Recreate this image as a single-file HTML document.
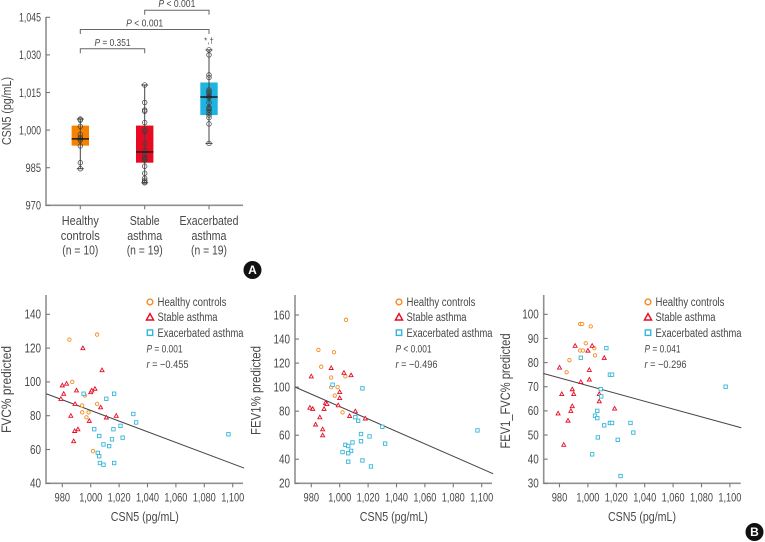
<!DOCTYPE html>
<html lang="en">
<head>
<meta charset="utf-8">
<title>CSN5 chart</title>
<style>
html,body{margin:0;padding:0;background:#fff;}
svg{display:block;font-family:"Liberation Sans",sans-serif;}
text{fill:#484848;}
</style>
</head>
<body>
<svg id="fig" width="765" height="542" viewBox="0 0 765 542" xmlns="http://www.w3.org/2000/svg"></svg>
<script>
// Panel A data
const boxCategories = [["Healthy","controls","(n = 10)"],["Stable","asthma","(n = 19)"],["Exacerbated","asthma","(n = 19)"]];
const boxColors = ["#f58300","#e60b23","#1fb4e0"];
const boxTicks = [970,985,1000,1015,1030,1045];
const boxQ1 = [993.8,987,1006];
const boxMedian = [996.5,991.3,1013.2];
const boxQ3 = [1001.8,1001.8,1019];
const boxMin = [984.6,979,994.7];
const boxMax = [1004.4,1018,1032];
const boxHealthy = [1004.4,1004,1001.5,998.2,997,996.5,996,993.7,987,984.6];
const boxStable = [1018,1011,1008,1007.5,1003,1000,999.3,994.6,991.8,990.5,989,988.5,988,985.6,982.8,980.8,980,979.4,979];
const boxExac = [1032,1030,1022,1021,1016,1015.5,1015,1014.5,1013,1011,1009,1008.6,1008,1007,1006,1005,1002.5,994.7,1013.5];

// Panel B data
const xTicks = [980,1000,1020,1040,1060,1080,1100];
const fvcTicks = [40,60,80,100,120,140];
const fev1Ticks = [20,40,60,80,100,120,140,160];
const ratioTicks = [30,40,50,60,70,80,90,100];
const fitX = [968.7,1108];

const fvcHealthyX = [985,1004.5,987,996,994,1004.5,994,998.5,997,1001.6];
const fvcHealthyY = [125,128,100,92,86,87,82,82,79,59];
const fvcStableX = [994.5,1008,980,983,981,990,979,989,986,988.7,991,988,1000,1000.7,1003,1007,999,1011,1018];
const fvcStableY = [120,107,98,99,93,95,90,87,80,71,72,65,94,95,96,85,77,79,80];
const fvcExacX = [995,1011,1016.5,1030,1032,1021,1002.5,1016,1006,1022.5,1015,1009,1013,1005,1006,1006.5,1009,1016.5,1097];
const fvcExacY = [93,90,93,81,76,74,72,72,68,67,66,63,62,58,56,52,51,52,69];
const fvcFit = [93,49];

const fev1HealthyX = [1004.4,985,996,987,994,1004,994,998.5,996.5,1002];
const fev1HealthyY = [156,131,129,117,108,109,100,100,93,79];
const fev1StableX = [994,1003,1008,980,1000,1000,990,991,999,979,981,989,986,983,988,988,1011,1007,1018];
const fev1StableY = [116,112,110,109,96,91,87,86,85,83,82,82,75,69,65,60,80,76,74];
const fev1ExacX = [995,1016,1011,1013,1030,1015,1021,1015,1009,1032,1004,1006,1008,1002,1006,1016,1006,1022,1097];
const fev1ExacY = [102,99,75,72,67,61,59,55,54,53,52,51,47,46,45,39,38,34,64];
const fev1Fit = [100,28];

const ratioHealthyX = [994.5,996,1002,998.5,1004.5,994.5,996.5,1005,987,985];
const ratioHealthyY = [96,96,95,88,86,85,85,83,81,76];
const ratioStableX = [991,1003,1000,1011.5,1001,980,1001,995,989,981.6,990,1008,1008,989,988,1018.8,979,986,983];
const ratioStableY = [87,87,85,82,77,78,73,72,69,67,67,67,64,62,60,61,59,56,46];
const ratioExacX = [1013,995,1015.5,1017,1097,1009,1009.4,1006.6,1005,1006.6,1015.5,1017,1030,1032,1011.5,1007,1021,1003,1023];
const ratioExacY = [86,82,75,75,70,69,66,60,58,57,55,55,55,51,54,49,48,42,33];
const ratioFit = [75.5,53];

const NS = "http://www.w3.org/2000/svg";
const fig = document.getElementById("fig");

function make(tag, attrs, name, parent){
  const el = document.createElementNS(NS, tag);
  for (const k in attrs) el.setAttribute(k, attrs[k]);
  
  
  (parent || fig).appendChild(el);
  return el;
}
function label(x, y, str, name, opts){
  const o = opts || {};
  const el = make("text", {x:x, y:y, "font-size":o.size||12, "text-anchor":o.anchor||"start"}, name, o.parent);
  if (o.transform) el.setAttribute("transform", o.transform);
  if (o.width) { el.setAttribute("textLength", o.width); el.setAttribute("lengthAdjust", "spacingAndGlyphs"); }
  el.textContent = str;
  return el;
}
function fmt(v){ return v >= 1000 ? Math.floor(v/1000) + "," + String(v%1000).padStart(3,"0") : String(v); }
function line(x1,y1,x2,y2,stroke,w,name,parent){
  return make("line",{x1:x1,y1:y1,x2:x2,y2:y2,stroke:stroke,"stroke-width":w},name,parent);
}
const axisColor = "#909090";

/* ---------- Panel A ---------- */
const A = {left:46, right:243, top:17, bottom:205.3, min:970, max:1045, cx:[80.3,144.7,209]};
const ay = v => A.bottom - (v - A.min) * (A.bottom - 17.3) / (A.max - A.min);
const gA = make("g", {}, "boxplot-panel-a");
line(A.left, A.top, A.left, A.bottom+0.8, axisColor, 1.6, "y-axis", gA);
line(A.left, A.bottom, A.right, A.bottom, axisColor, 1.6, "x-axis", gA);
boxTicks.forEach(t => {
  line(A.left, ay(t), A.left+4, ay(t), "#777", 1.1, "y-tick", gA);
  label(41, ay(t)+4.3, fmt(t), "y-tick-label", {anchor:"end", parent:gA, size:12, width:t>=1000?22:15.5});
});
label(11, 111, "CSN5 (pg/mL)", "y-axis-title", {anchor:"middle", parent:gA, size:12.5, transform:"rotate(-90 11 111)", width:68});
const boxPoints = [boxHealthy, boxStable, boxExac];
const boxLabelWidths = [[37,39,36],[30,35,36],[59,35,36]];
const boxLabelY = [225,240,254.5];
boxCategories.forEach((lines, i) => {
  const c = A.cx[i];
  line(c, A.bottom, c, A.bottom+4, "#777", 1.1, "x-tick", gA);
  make("rect",{x:c-8.7,y:ay(boxQ3[i]),width:17.4,height:ay(boxQ1[i])-ay(boxQ3[i]),fill:boxColors[i]},"box-"+i,gA);
  line(c, ay(boxMax[i]), c, ay(boxMin[i]), "#444", 1, "whisker", gA);
  line(c-3.5, ay(boxMax[i]), c+3.5, ay(boxMax[i]), "#444", 1, "whisker-cap-top", gA);
  line(c-3.5, ay(boxMin[i]), c+3.5, ay(boxMin[i]), "#444", 1, "whisker-cap-bottom", gA);
  boxPoints[i].forEach(v => {
    make("circle",{cx:c,cy:ay(v),r:2.3,fill:"none",stroke:"#3c3c3c","stroke-width":0.7},"data-point",gA);
  });
  line(c-8.7, ay(boxMedian[i]), c+8.7, ay(boxMedian[i]), "#1a1a1a", 1.4, "median-line", gA);
  lines.forEach((s, j) => {
    label(c, boxLabelY[j], s, "category-label", {anchor:"middle", parent:gA, size:12.5, width:boxLabelWidths[i][j]});
  });
});
function bracket(x1, x2, y, txt, ly, tw){
  const g = make("g", {}, "significance-bracket", gA);
  make("path",{d:`M${x1} ${y+4.5}V${y}H${x2}V${y+4.5}`,fill:"none",stroke:"#666","stroke-width":1},"bracket-line",g);
  const t = label((x1+x2)/2, ly, "", "p-value-label", {anchor:"middle", parent:g, size:10.5});
  const i = document.createElementNS(NS,"tspan");
  i.setAttribute("font-style","italic");
  i.textContent = "P";
  t.appendChild(i);
  t.appendChild(document.createTextNode(txt));
  t.setAttribute("textLength", tw);
  t.setAttribute("lengthAdjust", "spacingAndGlyphs");
}
bracket(144.7, 209, 10.3, " < 0.001", 6.8, 37);
bracket(80.3, 209, 29.5, " < 0.001", 26.5, 37);
bracket(80.3, 144.7, 48.7, " = 0.351", 45.8, 36);
label(209, 43.5, "*,†", "significance-marker", {anchor:"middle", parent:gA, size:8});

/* ---------- Panel B ---------- */
function scatter(cfg){
  const g = make("g", {}, cfg.name);
  const top = 295, bottom = 483.3;
  const px = v => cfg.x980 + (v - 980) * 1.42;
  const py = v => bottom - (v - cfg.ticks[0]) * cfg.scale;
  line(cfg.axisX, top, cfg.axisX, bottom+0.8, axisColor, 1.6, "y-axis", g);
  line(cfg.axisX, bottom, cfg.axisX+197, bottom, axisColor, 1.6, "x-axis", g);
  cfg.ticks.forEach(t => {
    line(cfg.axisX, py(t), cfg.axisX+4, py(t), "#777", 1.1, "y-tick", g);
    label(cfg.axisX-5, py(t)+4.3, fmt(t), "y-tick-label", {anchor:"end", parent:g, size:12.5, width:String(t).length>2?16.5:11});
  });
  xTicks.forEach(t => {
    line(px(t), bottom, px(t), bottom+4, "#777", 1.1, "x-tick", g);
    label(px(t), 501.3, fmt(t), "x-tick-label", {anchor:"middle", parent:g, size:12, width:t>=1000?23:15.5});
  });
  label(cfg.x980+82.5, 521, "CSN5 (pg/mL)", "x-axis-title", {anchor:"middle", parent:g, size:12.5, width:68});
  const tx = cfg.titleX, ty = cfg.titleY;
  label(tx, ty, cfg.title, "y-axis-title", {anchor:"middle", parent:g, size:13.5, transform:`rotate(-90 ${tx} ${ty})`, width:cfg.titleW});
  line(px(fitX[0]), py(cfg.fit[0]), px(fitX[1]), py(cfg.fit[1]), "#444", 1, "regression-line", g);
  cfg.hx.forEach((v,i) => {
    make("circle",{cx:px(v),cy:py(cfg.hy[i]),r:1.7,fill:"#fff",stroke:"#f58a1f","stroke-width":0.9},"healthy-point",g);
  });
  cfg.sx.forEach((v,i) => {
    const x = px(v), y = py(cfg.sy[i]);
    make("path",{d:`M${x} ${y-2}L${x+2} ${y+1.6}H${x-2}Z`,fill:"#fff",stroke:"#e60b23","stroke-width":0.9},"stable-point",g);
  });
  cfg.ex.forEach((v,i) => {
    const x = px(v), y = py(cfg.ey[i]);
    make("rect",{x:x-1.7,y:y-1.7,width:3.4,height:3.4,fill:"#fff",stroke:"#35b5dc","stroke-width":0.9},"exacerbated-point",g);
  });
  const mx = cfg.legendX, tox = mx + 7.5;
  make("circle",{cx:mx,cy:302,r:2.9,fill:"none",stroke:"#f58a1f","stroke-width":1.4},"legend-marker-healthy",g);
  label(tox, 306, "Healthy controls", "legend-label-healthy", {parent:g, size:11.5, width:69});
  make("path",{d:`M${mx} 313.6L${mx+3.6} 320H${mx-3.6}Z`,fill:"none",stroke:"#e60b23","stroke-width":1.4},"legend-marker-stable",g);
  label(tox, 321, "Stable asthma", "legend-label-stable", {parent:g, size:11.5, width:60});
  make("rect",{x:mx-2.7,y:330,width:5.4,height:5.4,fill:"none",stroke:"#35b5dc","stroke-width":1.4},"legend-marker-exacerbated",g);
  label(tox, 337, "Exacerbated asthma", "legend-label-exacerbated", {parent:g, size:11.5, width:86});
  const p = label(mx-3.5, 352.5, "", "p-value-label", {parent:g, size:11});
  const pi = document.createElementNS(NS,"tspan");
  pi.setAttribute("font-style","italic");
  pi.textContent = "P";
  p.appendChild(pi);
  p.appendChild(document.createTextNode(cfg.p));
  p.setAttribute("textLength", 36);
  p.setAttribute("lengthAdjust", "spacingAndGlyphs");
  const r = label(mx-3.5, 368, "", "r-value-label", {parent:g, size:11});
  const ri = document.createElementNS(NS,"tspan");
  ri.setAttribute("font-style","italic");
  ri.textContent = "r";
  r.appendChild(ri);
  r.appendChild(document.createTextNode(cfg.r));
  r.setAttribute("textLength", 42);
  r.setAttribute("lengthAdjust", "spacingAndGlyphs");
}
scatter({name:"scatter-fvc",axisX:46,x980:62.3,ticks:fvcTicks,scale:1.69,title:"FVC% predicted",titleX:11,titleY:389.5,titleW:87,
  fit:fvcFit,hx:fvcHealthyX,hy:fvcHealthyY,sx:fvcStableX,sy:fvcStableY,ex:fvcExacX,ey:fvcExacY,legendX:150,p:" = 0.001",r:" = −0.455"});
scatter({name:"scatter-fev1",axisX:295,x980:311.3,ticks:fev1Ticks,scale:1.202,title:"FEV1% predicted",titleX:260.5,titleY:390.5,titleW:89,
  fit:fev1Fit,hx:fev1HealthyX,hy:fev1HealthyY,sx:fev1StableX,sy:fev1StableY,ex:fev1ExacX,ey:fev1ExacY,legendX:399,p:" < 0.001",r:" = −0.496"});
scatter({name:"scatter-fev1-fvc",axisX:543.7,x980:559.5,ticks:ratioTicks,scale:2.414,title:"FEV1_FVC% predicted",titleX:510,titleY:391,titleW:115,
  fit:ratioFit,hx:ratioHealthyX,hy:ratioHealthyY,sx:ratioStableX,sy:ratioStableY,ex:ratioExacX,ey:ratioExacY,legendX:648,p:" = 0.041",r:" = −0.296"});

/* ---------- Panel badges ---------- */
function badge(x, y, s){
  make("circle",{cx:x,cy:y,r:9,fill:"#111"},"panel-badge-"+s);
  const t = label(x, y+4.2, s, "panel-label-"+s, {anchor:"middle", size:12});
  t.setAttribute("font-weight","bold");
  t.style.fill = "#fff";
}
badge(252.5, 270, "A");
badge(754.5, 532, "B");
</script>
</body>
</html>
